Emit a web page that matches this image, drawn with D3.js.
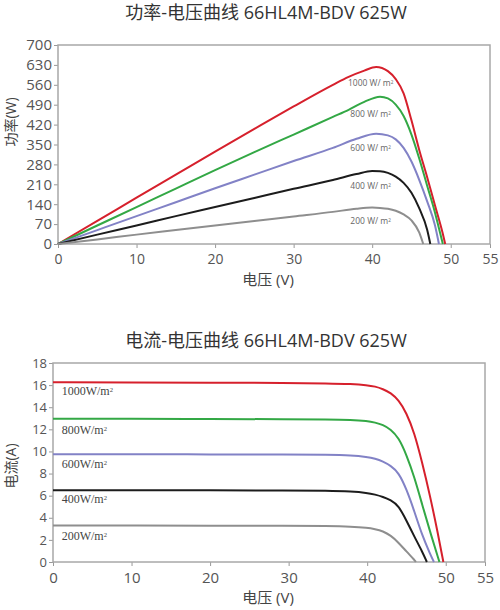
<!DOCTYPE html>
<html>
<head>
<meta charset="utf-8">
<script src="https://cdn.jsdelivr.net/npm/d3@7"></script>
<style>
	body { margin: 0; background: #fff; }
	svg { display: block; }
	.chart_title { font-family: "Open Sans", "Noto Sans CJK SC", sans-serif; fill: #333; text-anchor: middle; }
	.axis_title { font-family: "Open Sans", "Noto Sans CJK SC", sans-serif; fill: #444; text-anchor: middle; }
	.tick text { font-family: "Open Sans", "Noto Sans", sans-serif; fill: #555; }
	.tick line { stroke: #999; }
	.domain { stroke: none; }
</style>
</head>
<body>
<div id="chart"></div>
<script>
// irradiance levels (W/m2) and line colours
let levels = ["1000", "800", "600", "400", "200"];
let colors = ["#d6202c", "#33a845", "#8282c6", "#1c1c1c", "#8e8e8e"];

// x axis ticks (V), shared by both charts
let volt_ticks = [0, 10, 20, 30, 40, 50, 55];
let power_ticks = [0, 70, 140, 210, 280, 350, 420, 490, 560, 630, 700];
let current_ticks = [0, 2, 4, 6, 8, 10, 12, 14, 16, 18];

// power-voltage curves, [V, W]
let power_1000 = [[0,0],[5,81],[10,163],[15,244],[20,325],[25,405],[30,484],[35,560],[37,588],[39,610],[40.5,623],[42,608],[43,580],[44,530],[45,435],[46,330],[47,235],[48,135],[49,35],[49.3,0]];
let power_800 = [[0,0],[5,65],[10,130],[15,195],[20,260],[25,323],[30,385],[35,447],[37,472],[39,500],[41,518],[42,512],[43,490],[44,450],[45,385],[46,300],[47,205],[48,110],[48.5,55],[49,0]];
let power_600 = [[0,0],[5,49],[10,98],[15,147],[20,196],[25,244],[30,292],[35,338],[38,370],[40.5,388],[42,382],[43,368],[44,338],[45,290],[46,225],[47,150],[48,65],[48.5,0]];
let power_400 = [[0,0],[5,33],[10,65],[15,98],[20,130],[25,162],[30,194],[35,225],[38,246],[40,257],[41,256],[42,250],[43,237],[44,215],[45,180],[46,125],[47,50],[47.4,0]];
let power_200 = [[0,0],[5,16],[10,33],[15,49],[20,65],[25,81],[30,97],[35,113],[38,124],[40,128],[41,127],[42,124],[43,117],[44,104],[45,83],[46,40],[46.5,0]];

// current-voltage curves, [V, A]
let current_1000 = [[0,16.25],[10,16.24],[20,16.22],[30,16.2],[35,16.16],[38,16.1],[40,16.0],[41,15.88],[42,15.65],[43,15.3],[44,14.65],[45,13.5],[46,11.7],[47,9.0],[48,6.0],[49,2.6],[49.7,0]];
let current_800 = [[0,12.95],[10,12.95],[20,12.93],[30,12.92],[35,12.9],[38,12.86],[40,12.75],[41,12.62],[42,12.42],[43,12.0],[44,11.25],[45,9.7],[46,7.7],[47,5.2],[48,2.75],[49.2,0]];
let current_600 = [[0,9.75],[10,9.75],[20,9.73],[30,9.72],[35,9.7],[38,9.65],[40,9.5],[41,9.35],[42,9.1],[43,8.7],[44,8.1],[45,6.6],[46,4.6],[47,2.4],[48,0.75],[48.5,0]];
let current_400 = [[0,6.5],[10,6.5],[20,6.48],[30,6.47],[35,6.45],[38,6.38],[40,6.25],[41,6.1],[42,5.9],[43,5.6],[44,5.1],[45,3.75],[46,2.3],[47,0.95],[47.6,0]];
let current_200 = [[0,3.3],[10,3.3],[20,3.29],[30,3.28],[35,3.25],[38,3.2],[40,3.1],[41,2.98],[42,2.8],[43,2.4],[44,1.75],[45,0.95],[46,0.2],[46.2,0]];

// where the irradiance labels sit, in data units
let power_label_y = [566, 457, 338, 204, 81];
let current_label_y = [15.45, 12.0, 8.86, 5.68, 2.37];

let width = 500, height = 610;

let svg = d3.select("#chart")
	.append("svg")
	.attr("width", width)
	.attr("height", height);

draw_chart({
	title: "功率-电压曲线 66HL4M-BDV 625W",
	title_y: 13,
	left: 58, right: 490, top: 45, bottom: 244,
	y_max: 700, y_ticks: power_ticks, y_font: 15, x_font: 14,
	y_title: "功率(W)", y_title_y: 122,
	series: [power_1000, power_800, power_600, power_400, power_200],
	curve: d3.curveMonotoneX,
	labels: levels.map(d => d + " W/ m"),
	label_x: 39.8, label_y: power_label_y, label_anchor: "middle",
	label_font: "'Open Sans', 'Noto Sans', sans-serif", label_size: 8.5, label_color: "#666"
});

draw_chart({
	title: "电流-电压曲线 66HL4M-BDV 625W",
	title_y: 341,
	left: 53, right: 485, top: 363, bottom: 562,
	y_max: 18, y_ticks: current_ticks, y_font: 13, x_font: 15,
	y_title: "电流(A)", y_title_y: 466,
	series: [current_1000, current_800, current_600, current_400, current_200],
	curve: d3.curveBasis,
	labels: levels.map(d => d + "W/m"),
	label_x: 1.1, label_y: current_label_y, label_anchor: "start",
	label_font: "'Liberation Serif', 'DejaVu Serif', serif", label_size: 12, label_color: "#444"
});

function draw_chart(c)
{
	/**
	 * Helper to draw one characteristic chart
	 */
	let g = svg.append("g");

	let x_scale = d3.scaleLinear()
		.domain([0, 55])
		.range([c.left, c.right]);

	let y_scale = d3.scaleLinear()
		.domain([0, c.y_max])
		.range([c.bottom, c.top]);

	//title
	g.append("text")
		.attr("class", "chart_title")
		.attr("x", 266)
		.attr("y", c.title_y)
		.attr("dy", "0.35em")
		.style("font-size", "18px")
		.text(c.title);

	//axes
	g.append("g")
		.attr("transform", "translate(0," + c.bottom + ")")
		.call(d3.axisBottom(x_scale).tickValues(volt_ticks).tickSize(4).tickPadding(6))
		.selectAll("text")
		.style("font-size", c.x_font + "px");

	g.append("g")
		.attr("transform", "translate(" + c.left + ",0)")
		.call(d3.axisLeft(y_scale).tickValues(c.y_ticks).tickSize(4).tickPadding(2))
		.selectAll("text")
		.style("font-size", c.y_font + "px");

	//plot frame
	g.append("rect")
		.attr("x", c.left)
		.attr("y", c.top)
		.attr("width", c.right - c.left)
		.attr("height", c.bottom - c.top)
		.attr("fill", "none")
		.attr("stroke", "#a8a8a8")
		.attr("stroke-width", 1.5);

	//axis titles
	g.append("text")
		.attr("class", "axis_title")
		.attr("x", 268)
		.attr("y", c.bottom + 36)
		.attr("dy", "0.35em")
		.style("font-size", "15px")
		.text("电压 (V)");

	g.append("text")
		.attr("class", "axis_title")
		.attr("transform", "translate(11," + c.y_title_y + ") rotate(-90)")
		.attr("dy", "0.35em")
		.style("font-size", "14px")
		.text(c.y_title);

	//curves
	let line = d3.line()
		.x(d => x_scale(d[0]))
		.y(d => y_scale(d[1]))
		.curve(c.curve);

	g.selectAll("path.curve")
		.data(c.series)
		.enter()
		.append("path")
		.attr("class", "curve")
		.attr("fill", "none")
		.attr("stroke", (d, i) => colors[i])
		.attr("stroke-width", 2)
		.attr("d", line);

	//irradiance labels
	let lbl = g.selectAll("text.level")
		.data(c.labels)
		.enter()
		.append("text")
		.attr("class", "level")
		.attr("x", x_scale(c.label_x))
		.attr("y", (d, i) => y_scale(c.label_y[i]))
		.attr("dy", "0.35em")
		.attr("text-anchor", c.label_anchor)
		.style("font-family", c.label_font)
		.style("font-size", c.label_size + "px")
		.style("fill", c.label_color);

	lbl.append("tspan").text(d => d);
	lbl.append("tspan")
		.attr("dy", "-0.45em")
		.style("font-size", (c.label_size * 0.55) + "px")
		.text("2");
}
</script>
</body>
</html>
